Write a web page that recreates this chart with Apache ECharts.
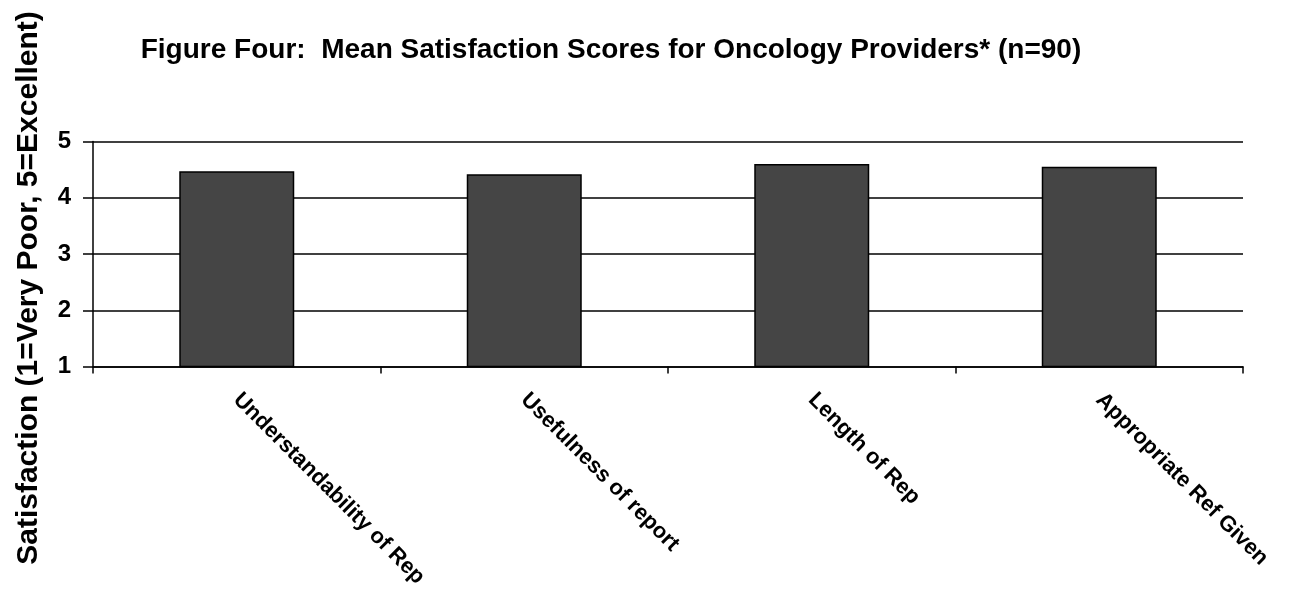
<!DOCTYPE html>
<html>
<head>
<meta charset="utf-8">
<script src="https://cdn.jsdelivr.net/npm/echarts@6/dist/echarts.min.js"></script>
<style>
html,body{margin:0;padding:0;background:#fff;}
#main{width:1293px;height:591px;}
</style>
</head>
<body>
<div id="main"></div>
<script>
const titleText = 'Figure Four:  Mean Satisfaction Scores for Oncology Providers* (n=90)';
const yAxisTitle = 'Satisfaction (1=Very Poor, 5=Excellent)';
const categories = ['Understandability of Rep', 'Usefulness of report', 'Length of Rep', 'Appropriate Ref Given'];
const meanScores = [4.47, 4.42, 4.60, 4.55];
const yTicks = [1, 2, 3, 4, 5];

const FONT = '"Liberation Sans", Arial, Helvetica, sans-serif';
const chart = echarts.init(document.getElementById('main'), null, {renderer: 'canvas'});
chart.setOption({
  backgroundColor: '#ffffff',
  animation: false,
  title: {
    text: titleText,
    left: 606,
    top: 31,
    textAlign: 'center',
    textStyle: {fontFamily: FONT, fontWeight: 'bold', fontSize: 28, color: '#000'}
  },
  graphic: [{
    type: 'text',
    x: 29,
    y: 288,
    rotation: Math.PI / 2,
    style: {
      text: yAxisTitle,
      font: 'bold 30px ' + FONT,
      fill: '#000',
      align: 'center',
      verticalAlign: 'middle'
    }
  }],
  grid: {left: 93, right: 50, top: 141.5, bottom: 224.5, containLabel: false},
  xAxis: {
    type: 'category',
    data: categories,
    axisLine: {lineStyle: {color: '#000', width: 1.5}},
    axisTick: {show: true, length: 7, lineStyle: {color: '#000', width: 1.5}, alignWithLabel: false},
    axisLabel: {
      rotate: -45,
      interval: 0,
      margin: 30,
      fontFamily: FONT,
      fontWeight: 'bold',
      fontSize: 22,
      color: '#000'
    }
  },
  yAxis: {
    type: 'value',
    min: yTicks[0],
    max: yTicks[yTicks.length - 1],
    interval: 1,
    axisLine: {show: true, lineStyle: {color: '#000', width: 1.5}},
    axisTick: {show: true, length: 10, lineStyle: {color: '#000', width: 1.5}},
    splitLine: {show: true, lineStyle: {color: '#000', width: 1.5}},
    axisLabel: {
      margin: 22,
      fontFamily: FONT,
      fontWeight: 'bold',
      fontSize: 24,
      color: '#000'
    }
  },
  series: [{
    type: 'bar',
    data: meanScores,
    barWidth: '40%',
    itemStyle: {color: '#454545', borderColor: '#000', borderWidth: 1.5}
  }]
});
</script>
</body>
</html>
